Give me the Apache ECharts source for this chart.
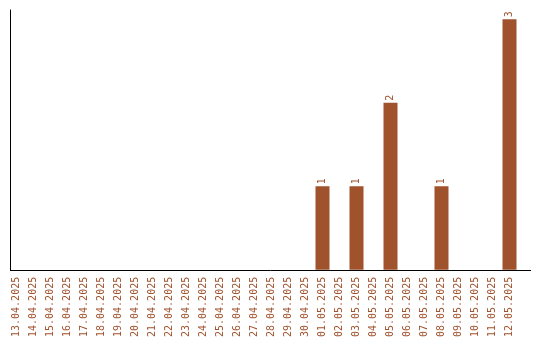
<!DOCTYPE html>
<html>
<head>
<meta charset="utf-8">
<script src="https://cdn.jsdelivr.net/npm/echarts@6/dist/echarts.min.js"></script>
<style>
  html, body { margin: 0; padding: 0; background: #fff; }
  #chart { width: 540px; height: 340px; }
</style>
</head>
<body>
<div id="chart"></div>
<script>
// Daily counts, 13.04.2025 – 12.05.2025
var dates = [
  '13.04.2025', '14.04.2025', '15.04.2025', '16.04.2025', '17.04.2025',
  '18.04.2025', '19.04.2025', '20.04.2025', '21.04.2025', '22.04.2025',
  '23.04.2025', '24.04.2025', '25.04.2025', '26.04.2025', '27.04.2025',
  '28.04.2025', '29.04.2025', '30.04.2025', '01.05.2025', '02.05.2025',
  '03.05.2025', '04.05.2025', '05.05.2025', '06.05.2025', '07.05.2025',
  '08.05.2025', '09.05.2025', '10.05.2025', '11.05.2025', '12.05.2025'
];
var counts = [
  0, 0, 0, 0, 0, 0, 0, 0, 0, 0,
  0, 0, 0, 0, 0, 0, 0, 0, 1, 0,
  1, 0, 2, 0, 0, 1, 0, 0, 0, 3
];

var barColor = '#A0522D';
var monoFont = '"DejaVu Sans Mono", "Liberation Mono", monospace';

var chart = echarts.init(document.getElementById('chart'), null, { renderer: 'canvas' });

chart.setOption({
  animation: false,
  grid: { left: 8, top: 10, width: 510, height: 260, containLabel: false },
  xAxis: {
    type: 'category',
    data: dates,
    boundaryGap: true,
    axisLine: { show: false },
    axisTick: { show: false },
    axisLabel: {
      interval: 0,
      rotate: 90,
      margin: 7,
      color: barColor,
      fontFamily: monoFont,
      fontSize: 10
    }
  },
  yAxis: {
    type: 'value',
    min: 0,
    max: 3.11,
    offset: -2,
    axisLine: { show: true, lineStyle: { color: '#000', width: 1 } },
    axisTick: { show: false },
    axisLabel: { show: false },
    splitLine: { show: false }
  },
  series: [{
    type: 'bar',
    data: counts.map(function (v) { return v === 0 ? null : v; }),
    barWidth: 14,
    itemStyle: { color: barColor },
    label: {
      show: true,
      position: 'top',
      rotate: 90,
      align: 'left',
      verticalAlign: 'middle',
      distance: 2,
      color: barColor,
      fontFamily: monoFont,
      fontSize: 10
    }
  }],
  graphic: [{
    // baseline running across the plot
    type: 'line',
    shape: { x1: 10, y1: 270.5, x2: 531, y2: 270.5 },
    style: { stroke: '#000', lineWidth: 1 },
    z: 10
  }]
});
</script>
</body>
</html>
